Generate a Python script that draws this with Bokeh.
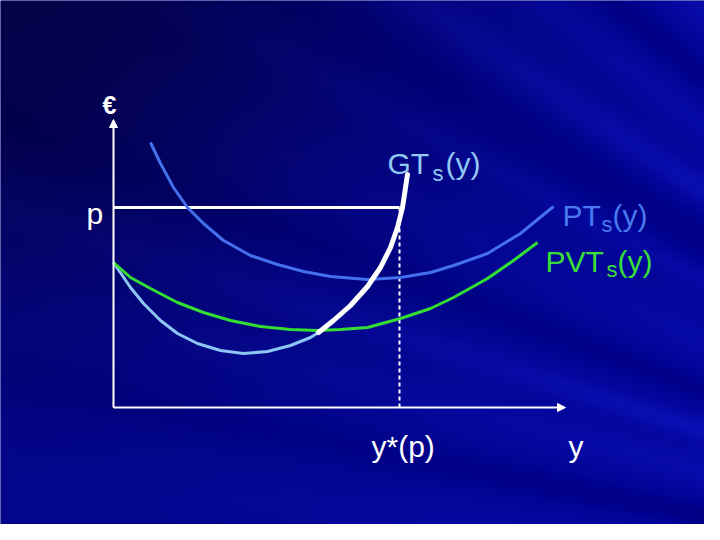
import numpy as np
from bokeh.plotting import figure
from bokeh.models import Range1d, Label, Arrow, NormalHead
from bokeh.embed import file_html
from bokeh.resources import INLINE

# ---- data (quantity y, euro) ----
pt_q = [7.4, 9.4, 12.0, 14.8, 18.0, 22.0, 27.4, 32.8, 38.0, 43.4, 50.8, 57.4, 63.4, 68.0, 74.8, 81.4, 88.0]
pt_c = [53.0, 48.8, 44.0, 40.0, 36.8, 33.4, 30.4, 28.6, 27.2, 26.2, 25.6, 26.0, 27.0, 28.4, 30.8, 34.8, 40.2]

gt_q = [0.0, 3.4, 6.0, 9.4, 12.8, 16.8, 21.4, 26.0, 30.8, 35.4, 39.4, 41.0]
gt_c = [29.0, 24.0, 20.8, 17.4, 14.8, 12.8, 11.4, 10.8, 11.2, 12.4, 14.0, 15.0]

pvt_q = [0.0, 3.4, 7.4, 12.8, 18.0, 23.4, 29.4, 35.4, 40.8, 45.4, 50.8, 57.4, 63.4, 68.0, 74.8, 80.0, 84.8]
pvt_c = [29.0, 26.0, 23.8, 21.0, 19.0, 17.4, 16.2, 15.6, 15.4, 15.6, 16.0, 17.8, 19.8, 22.0, 25.8, 29.4, 33.0]

mc_q = [41.0, 44.0, 47.4, 50.8, 53.4, 55.4, 56.8, 57.8, 58.8]
mc_c = [15.0, 17.4, 20.4, 24.2, 28.0, 32.0, 36.0, 40.0, 46.6]

price_p = 40.0
y_star = 57.2
axis_q_max = 90.4
axis_c_max = 57.6

# ---- layout ----
W, H = 704, 524
SCALE = 5.0
OX, OY = 113.0, 407.0  # picture pixel of the origin


def dx(px):
    return (px - OX) / SCALE


def dy(py):
    return (OY - py) / SCALE


x0, x1 = dx(0), dx(W)
y0, y1 = dy(H), dy(0)

p = figure(width=W, height=H, x_range=Range1d(x0, x1), y_range=Range1d(y0, y1),
           output_backend="svg", toolbar_location=None, min_border=0,
           x_axis_location=None, y_axis_location=None)
p.grid.visible = False
p.outline_line_color = None
p.background_fill_color = "#05088c"
p.border_fill_color = "#05088c"

# ---- background texture: dark corner + faint rays ----
hr, wr = 262, 352
Ys = H - (np.arange(hr) + 0.5) * (H / hr)
Xs = (np.arange(wr) + 0.5) * (W / wr)
XX, YY = np.meshgrid(Xs, Ys)
dark = np.exp(-(XX / 420.0) ** 2 - (YY / 330.0) ** 2)
theta = np.degrees(np.arctan2(YY - 650.0, XX - 1400.0))
r = np.hypot(YY - 650.0, XX - 1400.0)
decay = np.exp(-(r - 700.0) / 450.0)
ray = np.zeros_like(XX)
for ang, wid, amp in [(-137.5, 1.2, 0.7), (-140.5, 0.8, -0.7), (-143.0, 1.0, 0.5),
                      (-146.6, 1.0, 0.8), (-149.5, 1.5, -0.6), (-152.0, 0.8, 0.4),
                      (-156.0, 1.5, 0.3), (-159.5, 1.0, -0.5), (-162.5, 0.9, 0.7),
                      (-165.5, 1.4, 0.4), (-169.0, 1.0, -0.6), (-172.5, 1.5, 0.3)]:
    ray += amp * np.exp(-((theta - ang) / wid) ** 2)
ray *= decay
Rc = np.clip(3 + 12 * ray, 0, 255)
Gc = np.clip(6 + 14 * ray - 5 * dark, 0, 255)
Bc = np.clip(145 - 75 * dark + 40 * ray + 12 * (XX / 720.0), 0, 255)
img = np.empty((hr, wr), dtype=np.uint32)
view = img.view(dtype=np.uint8).reshape((hr, wr, 4))
view[:, :, 0] = Rc.astype(np.uint8)
view[:, :, 1] = Gc.astype(np.uint8)
view[:, :, 2] = Bc.astype(np.uint8)
view[:, :, 3] = 255
p.image_rgba(image=[img], x=x0, y=y0, dw=x1 - x0, dh=y1 - y0)

# ---- axes ----
p.add_layout(Arrow(end=NormalHead(size=8, fill_color="white", line_color="white"),
                   x_start=0, y_start=0, x_end=axis_q_max, y_end=0,
                   line_color="white", line_width=2))
p.add_layout(Arrow(end=NormalHead(size=8, fill_color="white", line_color="white"),
                   x_start=0, y_start=0, x_end=0, y_end=axis_c_max,
                   line_color="white", line_width=2))

# ---- price line and y*(p) ----
p.segment(x0=[0], y0=[price_p], x1=[y_star], y1=[price_p], line_color="white", line_width=3)
p.segment(x0=[y_star], y0=[0], x1=[y_star], y1=[price_p], line_color="white",
          line_width=2, line_dash="4 3")

# ---- curves ----
p.line(pt_q, pt_c, line_color="#4470ee", line_width=3, line_join="round")
p.line(gt_q, gt_c, line_color="#8cc6f4", line_width=3, line_join="round")
p.line(pvt_q, pvt_c, line_color="#33dd33", line_width=3, line_join="round")
p.line(mc_q, mc_c, line_color="white", line_width=5, line_cap="round", line_join="round")

# ---- labels ----
FONT = "Liberation Sans"


def lab(text, px, py, color, size=30, align="left", base="alphabetic", style="normal"):
    p.add_layout(Label(x=dx(px), y=dy(py), text=text, text_color=color,
                       text_font=FONT, text_font_size=f"{size}px", text_align=align,
                       text_baseline=base, text_font_style=style))


lab("€", 109, 104, "white", size=25, align="center", base="middle", style="bold")
lab("p", 86, 213, "white")

gt_col = "#94c8f4"
lab("GT", 387, 163, gt_col)
lab("s", 432, 173, gt_col, size=22)
lab("(y)", 445, 163, gt_col)

pt_col = "#4a78ee"
lab("PT", 562, 215, pt_col)
lab("s", 601, 224, pt_col, size=22)
lab("(y)", 612, 215, pt_col)

pvt_col = "#3ade3a"
lab("PVT", 545, 261, pvt_col)
lab("s", 606, 269, pvt_col, size=22)
lab("(y)", 617, 261, pvt_col)

lab("y*(p)", 371, 446, "white")
lab("y", 568, 446, "white")

open("out.html", "w").write(file_html(p, INLINE))
